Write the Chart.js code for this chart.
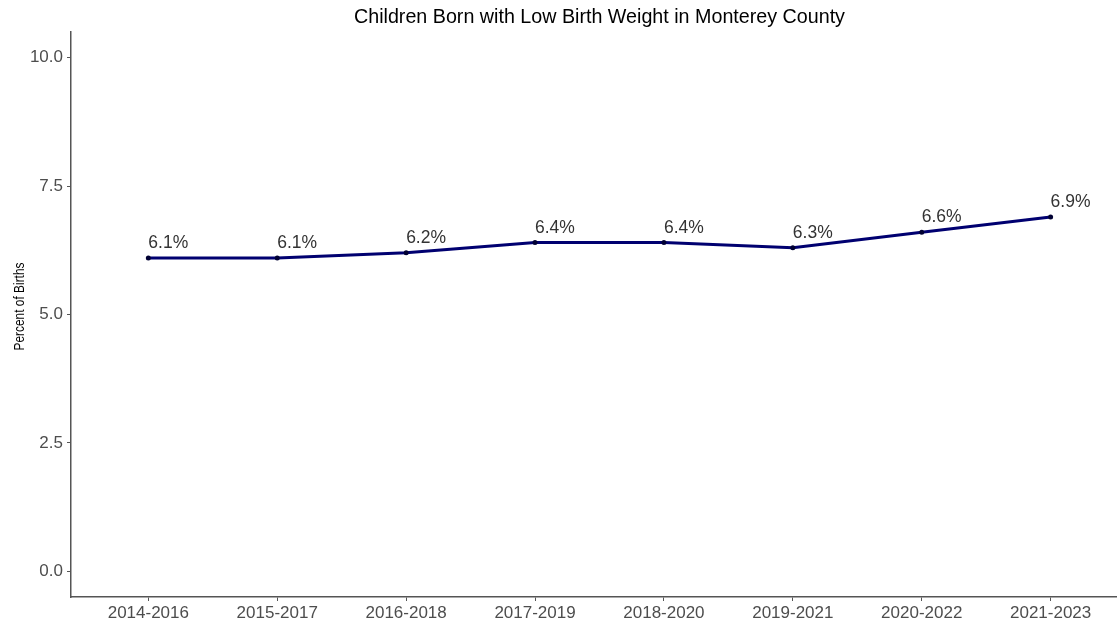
<!DOCTYPE html>
<html>
<head>
<meta charset="utf-8">
<script src="https://cdn.jsdelivr.net/npm/chart.js@4.4.0/dist/chart.umd.min.js"></script>
<style>
  html, body { margin: 0; padding: 0; background: #fff; }
  #wrap { width: 1117px; height: 620px; }
</style>
</head>
<body>
<div id="wrap"><canvas id="lbwChart" width="1117" height="620"></canvas></div>
<script>
// -- data
var periods = ["2014-2016", "2015-2017", "2016-2018", "2017-2019",
               "2018-2020", "2019-2021", "2020-2022", "2021-2023"];
var lbwPercent = [6.1, 6.1, 6.2, 6.4, 6.4, 6.3, 6.6, 6.9];
var yTicks = [0, 2.5, 5, 7.5, 10];

var chartTitle = "Children Born with Low Birth Weight in Monterey County";
var yTitle = "Percent of Births";

var axisGray = '#555555';
var tickGray = '#4d4d4d';

// title, y axis title and the point labels
var textPlugin = {
  id: 'textPlugin',
  afterDatasetsDraw: function(chart) {
    var c = chart.ctx;
    var area = chart.chartArea;
    var xs = chart.scales.x;
    c.save();

    // title centred over the panel (panel runs past the right edge like the original)
    var panelMid = (xs.getPixelForValue(-0.6) + xs.getPixelForValue(7.6)) / 2;
    c.fillStyle = '#000';
    c.font = '19.7px "Liberation Sans", Arial, sans-serif';
    c.textAlign = 'center';
    c.textBaseline = 'alphabetic';
    c.fillText(chartTitle, panelMid, 23);

    // y title, squeezed a bit like the narrow face in the original
    c.translate(24, (area.top + area.bottom) / 2 - 8);
    c.rotate(-Math.PI / 2);
    c.scale(0.82, 1);
    c.font = '14.5px "Liberation Sans", Arial, sans-serif';
    c.fillText(yTitle, 0, 0);
    c.setTransform(1, 0, 0, 1, 0, 0);

    // value labels
    var meta = chart.getDatasetMeta(0);
    c.fillStyle = '#333333';
    c.font = '17.5px "Liberation Sans", Arial, sans-serif';
    c.textAlign = 'left';
    meta.data.forEach(function(pt, i) {
      c.fillText(lbwPercent[i].toFixed(1) + '%', pt.x, pt.y - 10);
    });
    c.restore();
  }
};

var ctx = document.getElementById("lbwChart");

var lbwChart = new Chart(ctx, {
  type: 'line',
  data: {
    datasets: [{
      data: lbwPercent.map(function(v, i) { return { x: i, y: v }; }),
      borderColor: '#000070',
      borderWidth: 3,
      pointRadius: 2.5,
      pointBackgroundColor: '#000033',
      pointBorderColor: '#000033',
      pointBorderWidth: 0,
      tension: 0,
      clip: false
    }]
  },
  options: {
    responsive: false,
    animation: false,
    events: [],
    layout: { autoPadding: false, padding: { top: 32, left: 0, right: 0, bottom: 0 } },
    plugins: {
      legend: { display: false },
      tooltip: { enabled: false },
      title: { display: false }
    },
    scales: {
      x: {
        type: 'linear',
        min: -0.6,
        max: 7.515,
        afterBuildTicks: function(scale) {
          scale.ticks = periods.map(function(p, i) { return { value: i }; });
        },
        afterFit: function(scale) {
          scale.height = 23;
          scale.paddingLeft = 0;
          scale.paddingRight = 0;
        },
        ticks: {
          autoSkip: false,
          maxRotation: 0,
          padding: 2,
          color: tickGray,
          font: { family: '"Liberation Sans", Arial, sans-serif', size: 17 },
          callback: function(v) { return periods[v]; }
        },
        grid: { display: true, drawOnChartArea: false, drawTicks: true, tickLength: 4, color: axisGray, lineWidth: 1 },
        border: { display: true, color: axisGray, width: 1.5 }
      },
      y: {
        min: -0.5,
        max: 10.5,
        afterBuildTicks: function(scale) {
          scale.ticks = yTicks.map(function(v) { return { value: v }; });
        },
        afterFit: function(scale) {
          scale.width = 71;
          scale.paddingTop = 0;
          scale.paddingBottom = 0;
        },
        ticks: {
          padding: 4,
          color: tickGray,
          font: { family: '"Liberation Sans", Arial, sans-serif', size: 17 },
          callback: function(v) { return v.toFixed(1); }
        },
        grid: { display: true, drawOnChartArea: false, drawTicks: true, tickLength: 4, color: axisGray, lineWidth: 1 },
        border: { display: true, color: axisGray, width: 1.5 }
      }
    }
  },
  plugins: [textPlugin]
});
</script>
</body>
</html>
